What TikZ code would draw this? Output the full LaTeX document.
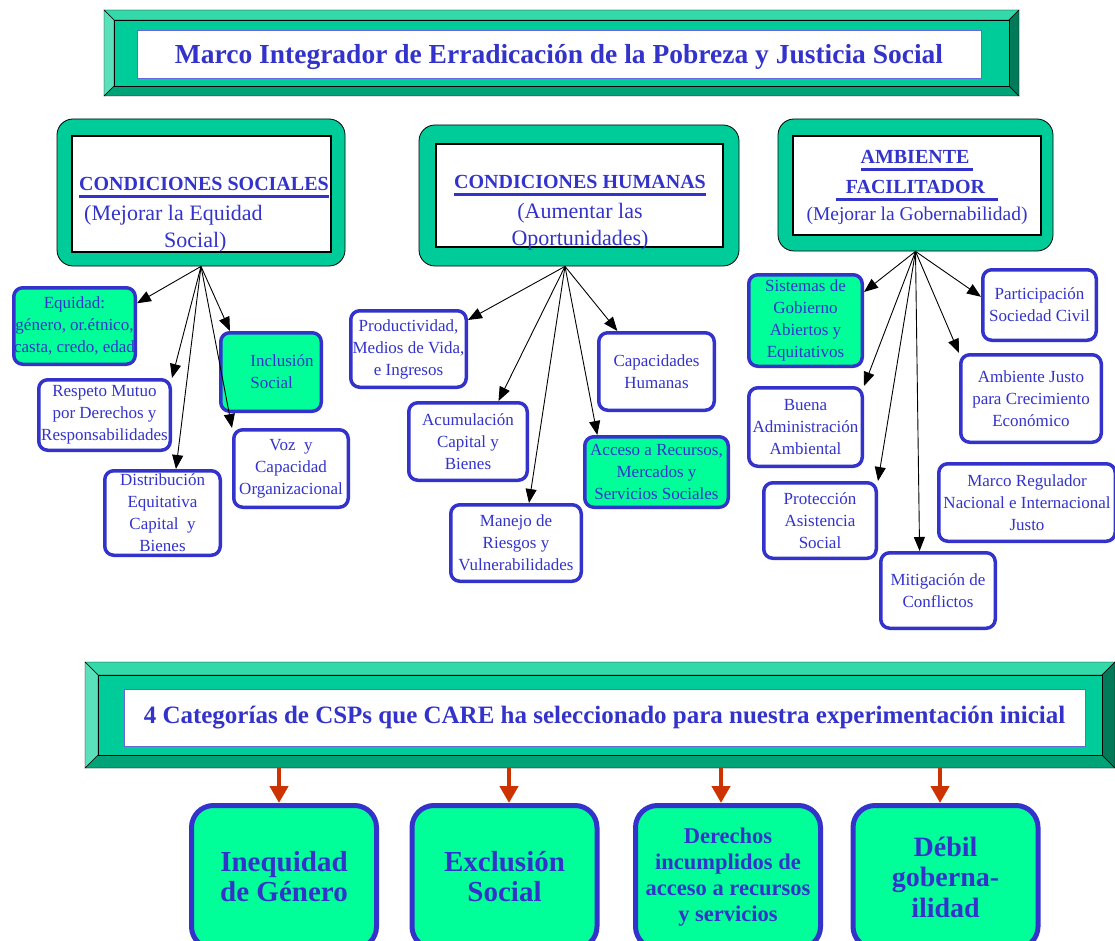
\documentclass[tikz,border=0pt]{standalone}
\usepackage{fontspec}
\setmainfont{Liberation Serif}
\usepackage{tikz}
\usetikzlibrary{arrows.meta}
\pgfdeclarelayer{nodelayer}
\pgfdeclarelayer{edgelayer}
\pgfsetlayers{nodelayer,edgelayer,main}
\definecolor{txtblue}{HTML}{3333CC}
\definecolor{rectblue}{HTML}{6666DD}
\definecolor{boxgreen}{HTML}{00CC99}
\definecolor{leafgreen}{HTML}{00FF99}
\definecolor{arrowred}{HTML}{CC3300}
\definecolor{bevtop}{HTML}{33D9A8}
\definecolor{bevleft}{HTML}{5BE0BC}
\definecolor{bevbottom}{HTML}{00A277}
\definecolor{bevright}{HTML}{007A58}
\tikzset{
    none/.style = {inner sep=0pt},
    boxsize/.style 2 args={minimum width=#1pt, minimum height=#2pt},
    titlebox/.style = {draw=rectblue, line width=1pt, fill=white, text=txtblue, inner sep=0pt},
    groupbox/.style = {draw=black, line width=0.8pt, fill=boxgreen, rounded corners=16pt},
    groupinner/.style = {draw=black, line width=1.6pt, fill=white},
    headtext/.style = {text=txtblue, inner sep=0pt, font=\fontsize{22}{27}\selectfont},
    leaf/.style = {draw=txtblue, line width=3.5pt, rounded corners=9pt, fill=white, text=txtblue, align=center, inner sep=0pt, font=\fontsize{17}{22}\selectfont},
    greenleaf/.style = {leaf, fill=leafgreen},
    catbox/.style = {draw=txtblue, line width=5pt, rounded corners=22pt, fill=leafgreen, text=txtblue, align=center, inner sep=0pt, minimum width=185pt, minimum height=143pt},
    blackarrow/.style = {draw=black, line width=0.9pt, -{Triangle[length=14pt, width=11pt]}},
    redarrow/.style = {draw=arrowred, line width=4.5pt, -{Triangle[length=17pt, width=18pt]}}
}
% heading font and underline
\newcommand{\hfont}{\fontsize{20}{27}\selectfont\bfseries}
\newsavebox{\headbox}
\newcommand{\headul}[1]{\sbox{\headbox}{#1}\rlap{\rule[-7pt]{\wd\headbox}{2.5pt}}\usebox{\headbox}}
% bevelled banner: x1, y1, x2, y2, bevel
\newcommand{\bevelbanner}[5]{%
  \filldraw [draw=black, fill=bevtop] (#1, #2) -- (#3, #2) -- (#3-#5, #2+#5) -- (#1+#5, #2+#5) -- cycle;
  \filldraw [draw=black, fill=bevbottom] (#1, #4) -- (#3, #4) -- (#3-#5, #4-#5) -- (#1+#5, #4-#5) -- cycle;
  \filldraw [draw=black, fill=bevleft] (#1, #2) -- (#1+#5, #2+#5) -- (#1+#5, #4-#5) -- (#1, #4) -- cycle;
  \filldraw [draw=black, fill=bevright] (#3, #2) -- (#3-#5, #2+#5) -- (#3-#5, #4-#5) -- (#3, #4) -- cycle;
  \filldraw [draw=black, fill=boxgreen] (#1+#5, #2+#5) rectangle (#3-#5, #4-#5);
}

\begin{document}
\begin{tikzpicture}[x=1pt, y=-1pt]
  \useasboundingbox (0, 0) rectangle (1115, 941);
  \begin{pgfonlayer}{nodelayer}
    % title banner
    \bevelbanner{104}{10}{1019}{96}{10}
    \node [style=titlebox, boxsize={844}{48}, font=\fontsize{27.5}{33}\selectfont\bfseries, text height=24pt, text depth=6pt] (0) at (559, 55) {Marco Integrador de Erradicación de la Pobreza y Justicia Social};

    % condiciones sociales
    \node [style=groupbox, boxsize={288}{147}] (1) at (201, 192.5) {};
    \node [style=groupinner, boxsize={259}{116}] (2) at (201.5, 194) {};
    \node [style=headtext, align=left] (3) at (204, 215) {{\hfont\headul{CONDICIONES SOCIALES}}\\[3pt]\hspace*{5pt}(Mejorar la Equidad\\\hspace*{85pt}Social)};
    \node [style=greenleaf, boxsize={121.5}{76.5}] (4) at (74.5, 326) {Equidad:\\género, or.étnico,\\casta, credo, edad};
    \node [style=leaf, boxsize={131.5}{70.5}] (5) at (104.5, 415) {Respeto Mutuo\\por Derechos y\\Responsabilidades};
    \node [style=leaf, boxsize={115.5}{84.5}] (6) at (162.5, 513) {Distribución\\Equitativa\\Capital~~y\\Bienes};
    \node [style=greenleaf, boxsize={100.5}{78.5}, align=left] (7) at (271, 372) {\hspace*{22pt}Inclusión\\\hspace*{22pt}Social};
    \node [style=leaf, boxsize={114.5}{77.5}] (8) at (291, 468.5) {Voz~~y\\Capacidad\\Organizacional};

    % condiciones humanas
    \node [style=groupbox, boxsize={320}{141}] (9) at (579, 195.5) {};
    \node [style=groupinner, boxsize={287}{103}] (10) at (579.5, 195.5) {};
    \node [style=headtext, align=center] (11) at (580, 213) {{\hfont\headul{CONDICIONES HUMANAS}}\\[3pt](Aumentar las\\Oportunidades)};
    \node [style=leaf, boxsize={115.5}{76.5}] (12) at (408.5, 349) {Productividad,\\Medios de Vida,\\e Ingresos};
    \node [style=leaf, boxsize={118.5}{77.5}] (13) at (468, 441.5) {Acumulación\\Capital y\\Bienes};
    \node [style=leaf, boxsize={130.5}{76.5}] (14) at (516, 543) {Manejo de\\Riesgos y\\Vulnerabilidades};
    \node [style=leaf, boxsize={115.5}{77.5}] (15) at (656.5, 371.5) {Capacidades\\Humanas};
    \node [style=greenleaf, boxsize={143.5}{70.5}] (16) at (656.5, 472) {Acceso a Recursos,\\Mercados y\\Servicios Sociales};

    % ambiente facilitador
    \node [style=groupbox, boxsize={275}{132}] (17) at (915.5, 185) {};
    \node [style=groupinner, boxsize={248}{99}] (18) at (917, 185.5) {};
    \node [style=headtext, align=center, font=\fontsize{19.5}{27}\selectfont] (19) at (917, 187.5) {{\hfont\headul{AMBIENTE\hspace*{4pt}}}\\[3pt]{\hfont\headul{\hspace*{10pt}FACILITADOR\hspace*{13pt}}}\\(Mejorar la Gobernabilidad)};
    \node [style=greenleaf, boxsize={113.5}{91.5}] (20) at (805.5, 320.5) {Sistemas de\\Gobierno\\Abiertos y\\Equitativos};
    \node [style=leaf, boxsize={113.5}{78.5}] (21) at (805.5, 427) {Buena\\Administración\\Ambiental};
    \node [style=leaf, boxsize={112.5}{75.5}] (22) at (820, 520.5) {Protección\\Asistencia\\Social};
    \node [style=leaf, boxsize={114.5}{75.5}] (23) at (938, 590.5) {Mitigación de\\Conflictos};
    \node [style=leaf, boxsize={113.5}{70.5}] (24) at (1039.5, 305) {Participación\\Sociedad Civil};
    \node [style=leaf, boxsize={140.5}{87.5}] (25) at (1031, 398.5) {Ambiente Justo\\para Crecimiento\\Económico};
    \node [style=leaf, boxsize={176.5}{77.5}] (26) at (1027, 502.5) {Marco Regulador\\Nacional e Internacional\\Justo};

    % categories banner
    \bevelbanner{85}{662}{1115}{768}{13}
    \node [style=titlebox, boxsize={961}{57}, font=\fontsize{25}{30}\selectfont\bfseries] (27) at (604.5, 717.5) {4 Categorías de CSPs que CARE ha seleccionado para nuestra experimentación inicial};
    \node [style=catbox, font=\fontsize{29}{30}\selectfont\bfseries] (28) at (284, 877) {Inequidad\\de Género};
    \node [style=catbox, font=\fontsize{29}{30}\selectfont\bfseries] (29) at (504.5, 877) {Exclusión\\Social};
    \node [style=catbox, font=\fontsize{22.5}{26}\selectfont\bfseries] (30) at (728, 877) {Derechos\\incumplidos de\\acceso a recursos\\y servicios};
    \node [style=catbox, font=\fontsize{28}{30.5}\selectfont\bfseries] (31) at (945.5, 877) {Débil\\goberna-\\ilidad};
    \coordinate (32) at (279, 768);
    \coordinate (33) at (509, 768);
    \coordinate (34) at (721, 768);
    \coordinate (35) at (940, 768);
  \end{pgfonlayer}
  \begin{pgfonlayer}{edgelayer}
    \draw [style=blackarrow] (1.south) to (4.20);
    \draw [style=blackarrow] (1.south) to (5.north east);
    \draw [style=blackarrow] (1.south) to (6.73);
    \draw [style=blackarrow] (1.south) to (7.135);
    \draw [style=blackarrow] (1.south) to (8.north west);
    \draw [style=blackarrow] ([xshift=-14pt]9.south) to (12.26);
    \draw [style=blackarrow] ([xshift=-14pt]9.south) to (13.53);
    \draw [style=blackarrow] ([xshift=-14pt]9.south) to (14.72);
    \draw [style=blackarrow] ([xshift=-14pt]9.south) to (15.134);
    \draw [style=blackarrow] ([xshift=-14pt]9.south) to (16.148);
    \draw [style=blackarrow] (17.south) to (20.26);
    \draw [style=blackarrow] (17.south) to (21.north east);
    \draw [style=blackarrow] (17.south) to (22.north east);
    \draw [style=blackarrow] (17.south) to (23.115);
    \draw [style=blackarrow] (17.south) to (24.172);
    \draw [style=blackarrow] (17.south) to (25.north west);
    \draw [style=redarrow] (32) to (32 |- 28.north);
    \draw [style=redarrow] (33) to (33 |- 29.north);
    \draw [style=redarrow] (34) to (34 |- 30.north);
    \draw [style=redarrow] (35) to (35 |- 31.north);
  \end{pgfonlayer}
\end{tikzpicture}
\end{document}
